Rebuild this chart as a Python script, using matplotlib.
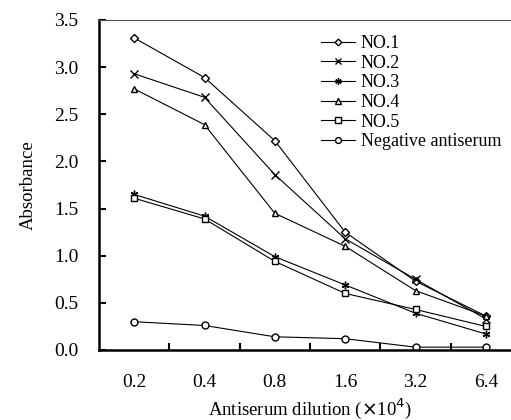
import numpy as np
import matplotlib
matplotlib.use("Agg")
import matplotlib.pyplot as plt

plt.rcParams['font.family'] = ['Liberation Serif', 'DejaVu Serif']

dilutions = ["0.2", "0.4", "0.8", "1.6", "3.2", "6.4"]
no1 = [3.31, 2.89, 2.22, 1.25, 0.73, 0.36]
no2 = [2.93, 2.68, 1.86, 1.18, 0.75, 0.33]
no3 = [1.65, 1.42, 0.99, 0.69, 0.39, 0.17]
no4 = [2.77, 2.39, 1.45, 1.10, 0.63, 0.36]
no5 = [1.61, 1.39, 0.94, 0.60, 0.43, 0.25]
neg = [0.30, 0.26, 0.14, 0.12, 0.03, 0.03]

series = [
    ("NO.1", no1, "D", 4.0),
    ("NO.2", no2, "x", 5.5),
    ("NO.3", no3, (6, 2, 0), 5.5),
    ("NO.4", no4, "^", 5.0),
    ("NO.5", no5, "s", 4.5),
    ("Negative antiserum", neg, "o", 5.0),
]

fig = plt.figure(figsize=(5.11, 4.2), dpi=100)
ax = fig.add_axes([99 / 511, 70 / 420, 422 / 511, 330 / 420])

x = np.arange(len(dilutions))
for name, vals, mk, ms in series:
    ax.plot(x, vals, color="black", lw=0.8, marker=mk, ms=ms,
            mfc="white", mec="black", mew=1.0, label=name)

ax.set_xlim(-0.5, 5.5)
ax.set_ylim(0, 3.5)
yt = np.arange(0, 3.51, 0.5)
ax.set_yticks(yt)
ax.set_yticklabels([f"{v:.1f}" for v in yt])
ax.set_xticks(x)
ax.set_xticklabels(dilutions)
ax.set_xticks(np.arange(0.5, 5.5, 1.0), minor=True)
ax.tick_params(axis="x", which="major", length=0, pad=17, labelsize=14)
ax.tick_params(axis="x", which="minor", direction="in", length=5, width=1.5)
ax.tick_params(axis="y", direction="in", length=5, width=1.5, pad=15, labelsize=14)

ax.spines["left"].set_linewidth(1.8)
ax.spines["bottom"].set_linewidth(1.8)
ax.spines["top"].set_linewidth(0.8)
ax.spines["top"].set_color("#555555")
ax.spines["right"].set_visible(False)

ax.set_ylabel("Absorbance", fontsize=13.5, labelpad=12)
ax.set_xlabel(r"Antiserum dilution ($\times$10$^4$)", fontsize=13.5, labelpad=4)

ax.legend(loc="upper left", bbox_to_anchor=(0.526, 0.955), frameon=False,
          fontsize=13, handlelength=1.9, handletextpad=0.3, markerscale=0.85,
          labelspacing=0.15, borderaxespad=0, borderpad=0)

fig.savefig("out.png", dpi=100)
